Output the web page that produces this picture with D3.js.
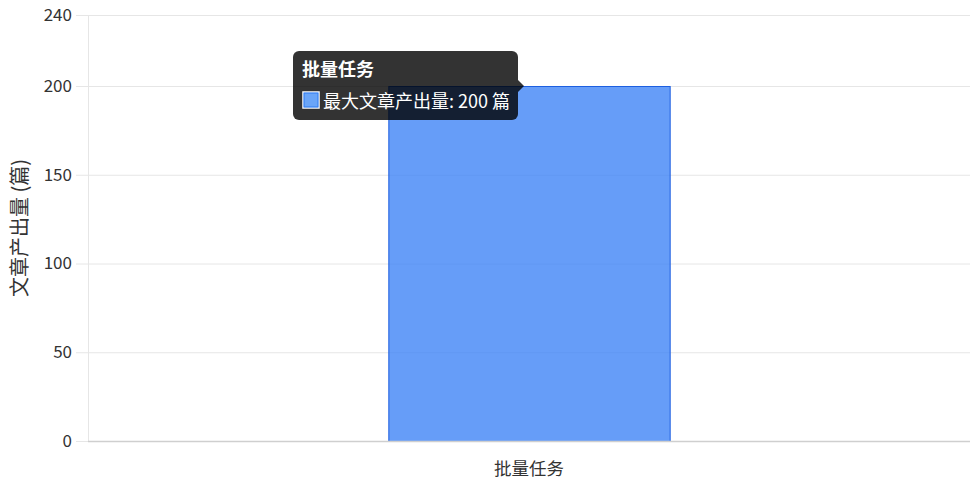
<!DOCTYPE html>
<html>
<head>
<meta charset="utf-8">
<script src="https://d3js.org/d3.v7.min.js"></script>
<style>
  body { margin: 0; background: #fff; }
  svg text { font-family: "Noto Sans CJK SC", "Noto Sans", sans-serif; }
</style>
</head>
<body>
<svg width="970" height="485"></svg>
<script>
// data
var categories = ["批量任务"];
var seriesName = "最大文章产出量";
var values = [200];
var unit = "篇";
var yTicks = [0, 50, 100, 150, 200, 240];
var yTitle = "文章产出量 (篇)";

var svg = d3.select("svg"),
    margin = {top: 15, right: 0, bottom: 44, left: 88},
    width = 970 - margin.left - margin.right,
    height = 485 - margin.top - margin.bottom;

var g = svg.append("g").attr("transform", "translate(" + margin.left + "," + margin.top + ")");

var x = d3.scaleBand().domain(categories).range([0, width]).padding(0);
var y = d3.scaleLinear().domain([0, 240]).range([height, 0]);

// grid
g.selectAll(".grid")
    .data(yTicks)
    .enter().append("line")
    .attr("x1", -12).attr("x2", width)
    .attr("y1", function(d) { return y(d) + 0.5; })
    .attr("y2", function(d) { return y(d) + 0.5; })
    .attr("stroke", "#e6e6e6").attr("stroke-width", 1);

// left axis line
g.append("line")
    .attr("x1", 0.5).attr("x2", 0.5).attr("y1", 0).attr("y2", height)
    .attr("stroke", "#e6e6e6");

// y tick labels
g.selectAll(".ytick")
    .data(yTicks)
    .enter().append("text")
    .attr("x", -16)
    .attr("y", function(d) { return y(d); })
    .attr("dy", "0.35em")
    .attr("text-anchor", "end")
    .attr("fill", "#333")
    .style("font-size", "17px")
    .text(function(d) { return d; });

// bars
var barFrac = 0.319;
g.selectAll(".bar")
    .data(values)
    .enter().append("rect")
    .attr("x", function(d, i) { return x(categories[i]) + x.bandwidth() * (1 - barFrac) / 2 + 0.5; })
    .attr("y", function(d) { return y(d) + 0.5; })
    .attr("width", x.bandwidth() * barFrac)
    .attr("height", function(d) { return height - y(d); })
    .attr("fill", "rgba(59,130,246,0.78)")
    .attr("stroke", "#1d5fe0")
    .attr("stroke-width", 1);

// bottom axis line
g.append("line")
    .attr("x1", 0).attr("x2", width)
    .attr("y1", height + 0.5).attr("y2", height + 0.5)
    .attr("stroke", "#cfcfcf").attr("stroke-width", 1.5);

// x labels
g.selectAll(".xlab")
    .data(categories)
    .enter().append("text")
    .attr("x", function(d) { return x(d) + x.bandwidth() / 2; })
    .attr("y", height + 34)
    .attr("text-anchor", "middle")
    .attr("fill", "#333")
    .style("font-size", "17.5px")
    .text(function(d) { return d; });

// y title
svg.append("text")
    .attr("transform", "translate(27," + (margin.top + height / 2) + ") rotate(-90)")
    .attr("text-anchor", "middle")
    .attr("fill", "#333")
    .style("font-size", "20px")
    .text(yTitle);

// tooltip
var tipX = margin.left + x(categories[0]) + x.bandwidth() * (1 - barFrac) / 2 + x.bandwidth() * barFrac / 2 - 5,
    tipY = margin.top + y(values[0]);
var boxW = 225, boxH = 69, caret = 6;
var bx = tipX - caret - boxW, by = tipY - 35;
var tip = svg.append("g");
tip.append("rect")
    .attr("x", bx).attr("y", by).attr("width", boxW).attr("height", boxH)
    .attr("rx", 6).attr("fill", "rgba(0,0,0,0.8)");
tip.append("path")
    .attr("d", "M" + (bx + boxW) + "," + (tipY - 6) + "L" + tipX + "," + tipY + "L" + (bx + boxW) + "," + (tipY + 6) + "Z")
    .attr("fill", "rgba(0,0,0,0.8)");
tip.append("text")
    .attr("x", bx + 9).attr("y", by + 25)
    .attr("fill", "#fff")
    .style("font-size", "18px").style("font-weight", "bold")
    .text(categories[0]);
tip.append("rect")
    .attr("x", bx + 10).attr("y", by + 41).attr("width", 16).attr("height", 16)
    .attr("fill", "#6aa5f8").attr("stroke", "#fff").attr("stroke-width", 1.5);
tip.append("rect")
    .attr("x", bx + 11).attr("y", by + 42).attr("width", 14).attr("height", 14)
    .attr("fill", "none").attr("stroke", "#2f7bf0").attr("stroke-width", 1);
tip.append("text")
    .attr("x", bx + 30).attr("y", by + 57)
    .attr("fill", "#fff")
    .style("font-size", "18px")
    .text(seriesName + ": " + values[0] + " " + unit);
</script>
</body>
</html>
